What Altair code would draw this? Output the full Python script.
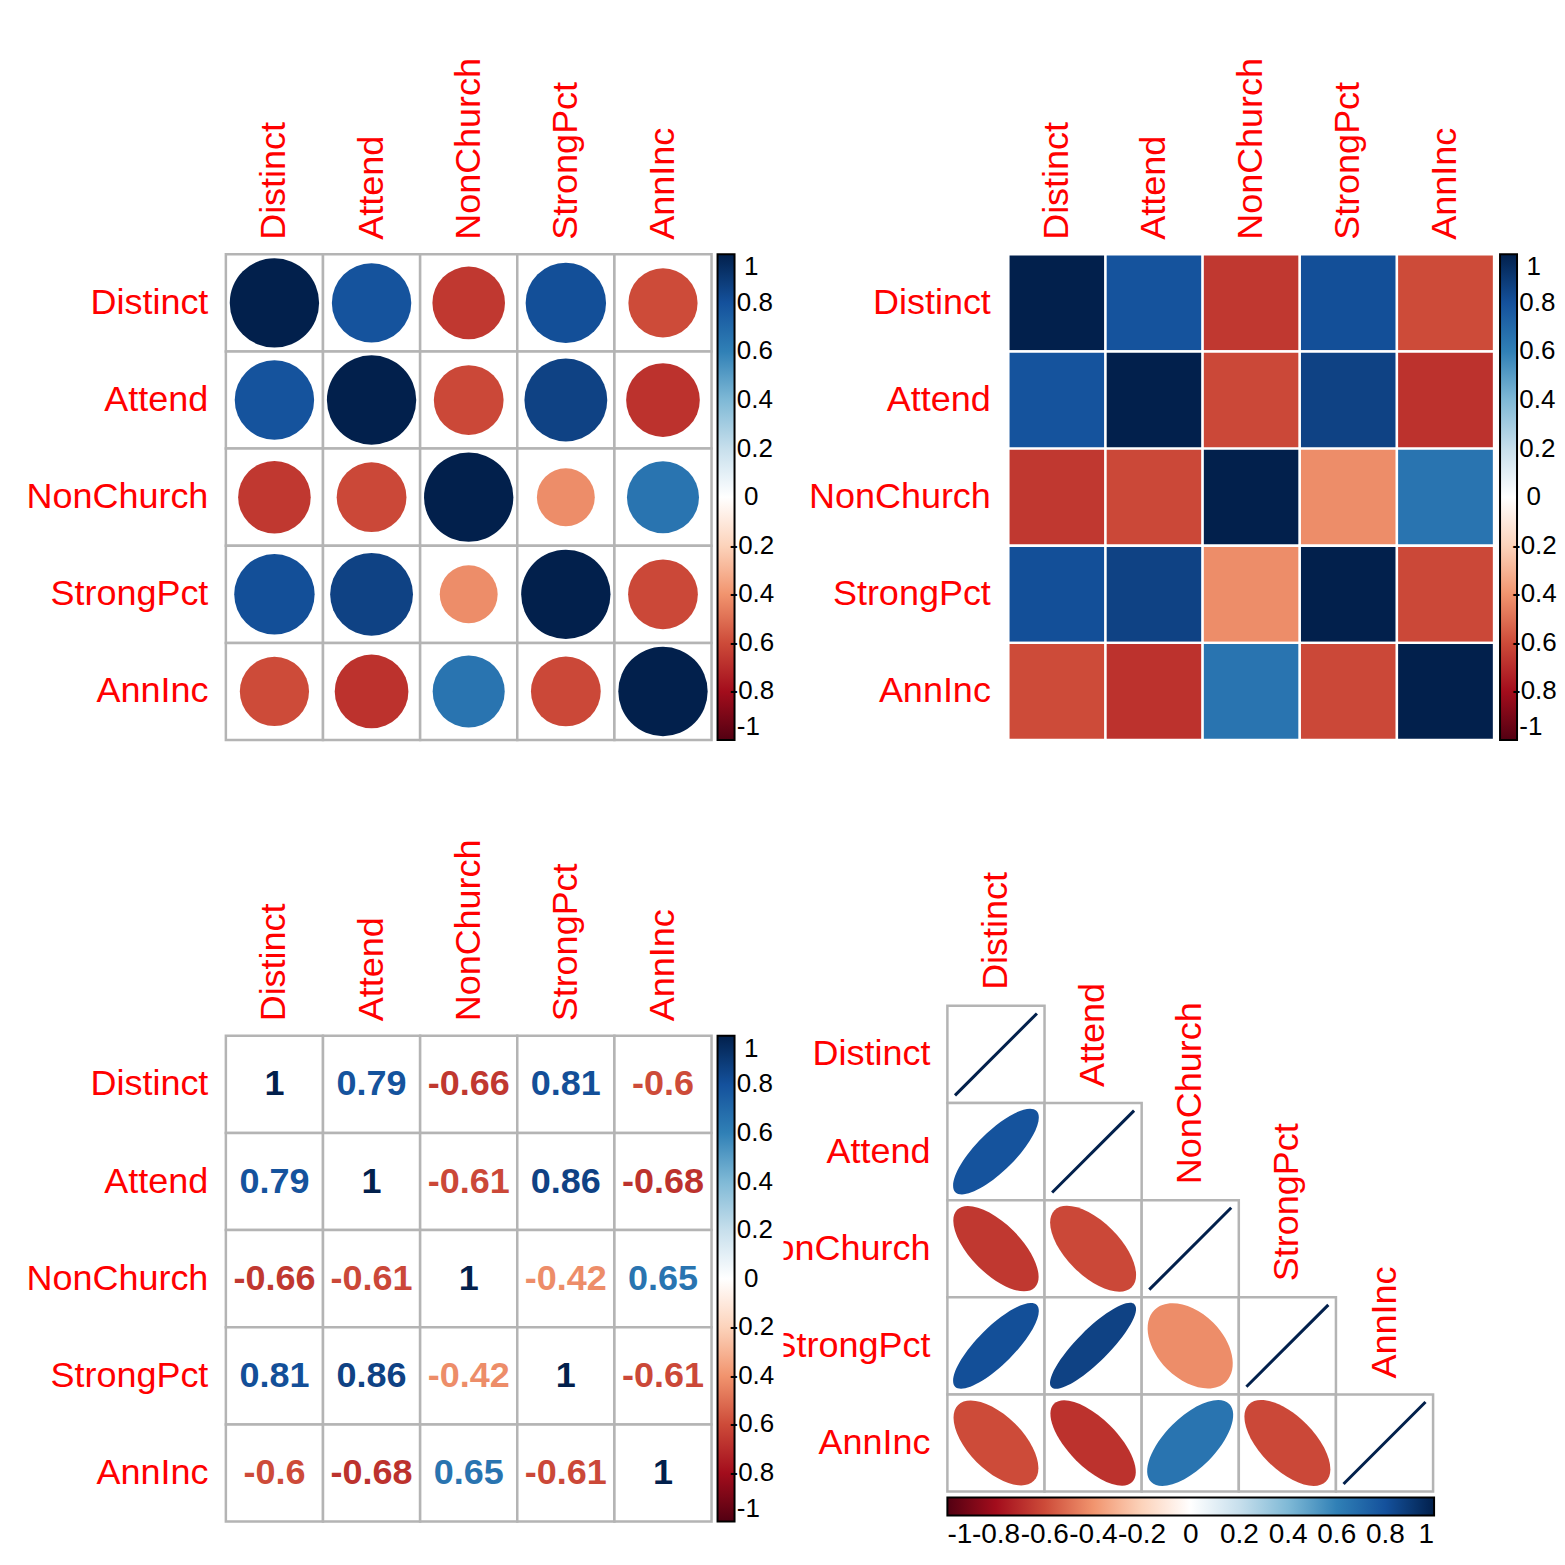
import math
import altair as alt
import pandas as pd

# ---------------- data ----------------
names = ["Distinct", "Attend", "NonChurch", "StrongPct", "AnnInc"]
corr_distinct = [1, 0.79, -0.66, 0.81, -0.6]
corr_attend = [0.79, 1, -0.61, 0.86, -0.68]
corr_nonchurch = [-0.66, -0.61, 1, -0.42, 0.65]
corr_strongpct = [0.81, 0.86, -0.42, 1, -0.61]
corr_anninc = [-0.6, -0.68, 0.65, -0.61, 1]
legend_ticks = [-1, -0.8, -0.6, -0.4, -0.2, 0, 0.2, 0.4, 0.6, 0.8, 1]
palette = ["#520012", "#A30D1C", "#CD4B39", "#F1946E", "#FCD3BB", "#FFFFFF",
           "#C7DFEC", "#7FB9D6", "#3080B6", "#14519C", "#02204C"]

rows = [corr_distinct, corr_attend, corr_nonchurch, corr_strongpct, corr_anninc]


def ellipse_path(r):
    # contour of a bivariate normal with correlation r, inside the [-1,1] box
    a = math.sqrt(1 + r)
    b = math.sqrt(max(1 - r, 1e-6))
    px, py = a / math.sqrt(2), -a / math.sqrt(2)
    return (f"M {px:.4f} {py:.4f} A {a:.4f} {b:.4f} -45 0 1 {-px:.4f} {-py:.4f} "
            f"A {a:.4f} {b:.4f} -45 0 1 {px:.4f} {py:.4f} Z")


records = []
for i, rn in enumerate(names):
    for j, cn in enumerate(names):
        r = rows[i][j]
        records.append(dict(row=rn, col=cn, i=i, j=j, r=r, absr=abs(r),
                            label=f"{r:g}", shape=ellipse_path(r)))
df = pd.DataFrame(records)

# ---------------- style ----------------
FONT = "Liberation Sans"
RED = "#FF0000"
GRID = "#B4B4B4"
W = 486
ZW = "\u200b"   # keeps the following no-break spaces from being trimmed
NB = "\u00a0"
# degenerate (r = 1) ellipse: a thin filled band along the diagonal
LINE_PATH = "M -1.026 0.974 L 0.974 -1.026 L 1.026 -0.974 L -0.974 1.026 Z"

cscale = alt.Scale(domain=legend_ticks, range=palette, type="linear", interpolate="rgb")

# vertical colour-bar labels: nudge short labels so they sit roughly centred like corrplot's
vlabel_expr = (f"(datum.value == 1 || datum.value == 0 ? '{ZW}{NB}{NB}' : "
               f"datum.value == -1 ? '{ZW}{NB}' : datum.value > 0 ? '{ZW}{NB}' : '') + datum.value")


def vlegend(x):
    return alt.Legend(orient="none", legendX=x, legendY=0, direction="vertical",
                      title=None, gradientLength=W, gradientThickness=17,
                      gradientStrokeColor="black", gradientStrokeWidth=2, values=legend_ticks,
                      labelExpr=vlabel_expr, labelFontSize=26, labelColor="black",
                      labelFont=FONT, labelOffset={"expr": "-5"}, labelOverlap=False, padding=0)


def hlegend(x, y):
    return alt.Legend(orient="none", legendX=x, legendY=y,
                      direction="horizontal", title=None, gradientLength=W + 1,
                      gradientThickness=18, gradientStrokeColor="black", gradientStrokeWidth=2,
                      values=legend_ticks, labelExpr="'' + datum.value", labelFontSize=28,
                      labelColor="black", labelFont=FONT, labelOffset=5, labelOverlap=False,
                      padding=0)


def band(rng=None):
    if rng is None:
        return alt.Scale(domain=names, paddingInner=0, paddingOuter=0)
    return alt.Scale(domain=names, paddingInner=0, paddingOuter=0, range=rng)


def xaxis():
    return alt.Axis(orient="top", labelAngle=270, labelAlign="left", labelBaseline="middle",
                    labelPadding=15, labelFontSize=36, labelColor=RED, labelFont=FONT,
                    domain=False, ticks=False, grid=False, title=None, labelLimit=600)


def yaxis(offset=0):
    return alt.Axis(orient="left", labelPadding=18, labelFontSize=36, labelColor=RED,
                    labelFont=FONT, domain=False, ticks=False, grid=False, title=None,
                    labelLimit=600, offset=offset)


base = alt.Chart(df)

# ---------------- panel 1: circles ----------------
X1 = alt.X("col:N", scale=band(), axis=xaxis())
Y1 = alt.Y("row:N", scale=band(), axis=yaxis())
grid1 = base.mark_rect(fill="white", stroke=GRID, strokeWidth=2.5).encode(x=X1, y=Y1)
circ1 = base.mark_circle(opacity=1).encode(
    x=X1, y=Y1,
    color=alt.Color("r:Q", scale=cscale, legend=vlegend(492)),
    size=alt.Size("absr:Q", scale=alt.Scale(domain=[0, 1], range=[0, 7992]), legend=None),
)
p1 = alt.layer(grid1, circ1).properties(width=W, height=W)

# ---------------- panel 2: squares ----------------
X2 = alt.X("col:N", scale=band([225, 711]), axis=xaxis())
Y2 = alt.Y("row:N", scale=band(), axis=yaxis(offset=-225))
sq2 = base.mark_rect(stroke="white", strokeWidth=2.4).encode(
    x=X2, y=Y2, color=alt.Color("r:Q", scale=cscale, legend=vlegend(717)))
p2 = alt.layer(sq2).properties(width=W, height=W)

# ---------------- panel 3: numbers ----------------
grid3 = base.mark_rect(fill="white", stroke=GRID, strokeWidth=2.5).encode(x=X1, y=Y1)
num3 = base.mark_text(fontSize=36, fontWeight="bold", font=FONT).encode(
    x=X1, y=Y1, text="label:N",
    color=alt.Color("r:Q", scale=cscale, legend=vlegend(492)))
p3 = alt.layer(grid3, num3).properties(width=W, height=W)

# ---------------- panel 4: lower-triangle ellipses ----------------
X4 = alt.X("col:N", scale=band([164, 650]), axis=None)
Y4 = alt.Y("row:N", scale=band([-30, 456]), axis=None)
leg4 = hlegend(164, 462)
grid4 = base.mark_rect(fill="white", stroke=GRID, strokeWidth=2.5).encode(
    x=X4, y=Y4).transform_filter("datum.j <= datum.i")
ell4 = base.mark_point(filled=True, opacity=1, size=7396).encode(
    x=X4, y=Y4, shape=alt.Shape("shape:N", scale=None),
    color=alt.Color("r:Q", scale=cscale, legend=leg4)
).transform_filter("datum.j < datum.i")
diag4 = base.mark_point(filled=True, opacity=1, size=6724, shape=LINE_PATH).encode(
    x=X4, y=Y4, color=alt.Color("r:Q", scale=cscale, legend=leg4)
).transform_filter("datum.j == datum.i")
rowlab4 = base.mark_text(clip=True, align="right", baseline="middle", fontSize=36, font=FONT,
                         color=RED, dx=-65.6).encode(
    x=X4, y=Y4, text="row:N").transform_filter("datum.j == 0")
collab4 = base.mark_text(angle=270, align="left", baseline="middle", fontSize=36, font=FONT,
                         color=RED, dx=64.6).encode(
    x=X4, y=Y4, text="col:N").transform_filter("datum.j == datum.i")
p4 = alt.layer(grid4, ell4, diag4, rowlab4, collab4).properties(width=W, height=W)

chart = (
    alt.concat(p1, p2, p3, p4, columns=2, spacing={"row": 296, "column": 72}, bounds="flush")
    .resolve_scale(color="independent")
    .resolve_legend(color="independent")
    .properties(padding={"left": 17, "top": 48, "right": 0, "bottom": 0})
    .configure(font=FONT)
    .configure_view(stroke="transparent", strokeWidth=0)
)

chart.save("out.html", embed_options={"renderer": "svg", "actions": False})
